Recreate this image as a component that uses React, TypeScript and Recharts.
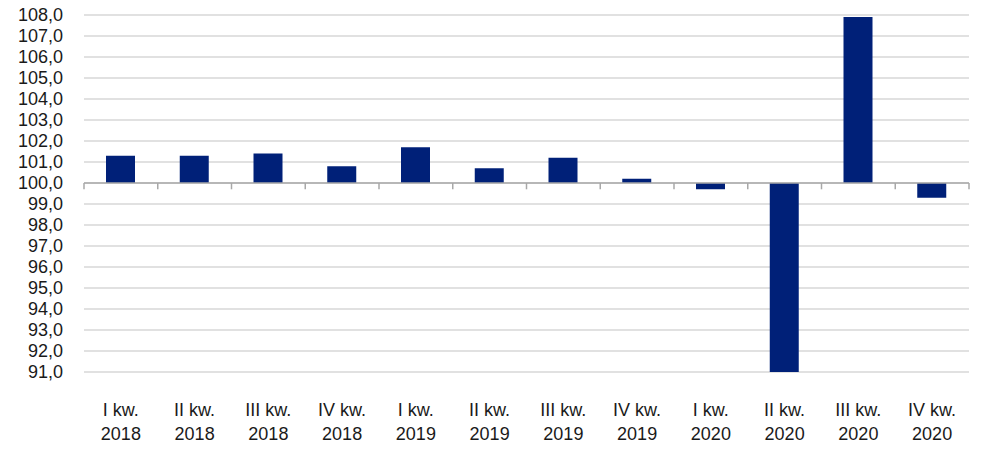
import { Bar, BarChart, CartesianGrid, ReferenceLine, XAxis, YAxis } from "recharts";

const quarters = ["I kw.", "II kw.", "III kw.", "IV kw.", "I kw.", "II kw.", "III kw.", "IV kw.", "I kw.", "II kw.", "III kw.", "IV kw."];
const years = ["2018", "2018", "2018", "2018", "2019", "2019", "2019", "2019", "2020", "2020", "2020", "2020"];
const values = [101.3, 101.3, 101.4, 100.8, 101.7, 100.7, 101.2, 100.2, 99.7, 90.8, 107.9, 99.3];
const yTicks = [91, 92, 93, 94, 95, 96, 97, 98, 99, 100, 101, 102, 103, 104, 105, 106, 107, 108];

const BASE = 100;
const FONT = "'Liberation Sans', Arial, sans-serif";

const data = values.map((v, i) => ({
  key: `${quarters[i]} ${years[i]}`,
  delta: v - BASE,
}));

function QuarterTick({ x, y, payload }: any) {
  const i = payload.index;
  return (
    <text x={x} y={y} textAnchor="middle" fill="#1a1a1a" fontSize={18} fontFamily={FONT}>
      <tspan x={x} dy={36}>{quarters[i]}</tspan>
      <tspan x={x} dy={24}>{years[i]}</tspan>
    </text>
  );
}

export default function App() {
  return (
    <div style={{ position: "absolute", left: 0, top: 0, background: "#fff" }}>
      <BarChart
        width={987}
        height={455}
        data={data}
        margin={{ top: 15, right: 18, bottom: 0, left: 0 }}
      >
        <CartesianGrid vertical={false} stroke="#c4c4c4" strokeWidth={1.2} />
        <XAxis
          dataKey="key"
          height={83}
          axisLine={false}
          tickLine={false}
          interval={0}
          tick={<QuarterTick />}
        />
        <YAxis
          width={84}
          domain={[yTicks[0] - BASE, yTicks[yTicks.length - 1] - BASE]}
          ticks={yTicks.map((t) => t - BASE)}
          allowDataOverflow
          axisLine={false}
          tickLine={false}
          tickSize={6}
          tickMargin={15}
          interval={0}
          tick={{ fill: "#1a1a1a", fontSize: 18, fontFamily: FONT }}
          tickFormatter={(v: number) => (v + BASE).toFixed(1).replace(".", ",")}
        />
        <Bar dataKey="delta" fill="#002078" barSize={29} isAnimationActive={false} />
        <ReferenceLine y={0} stroke="#a8a8a8" strokeWidth={1.5} />
        {data.map((d) => (
          <ReferenceLine
            key={d.key}
            position="start"
            segment={[{ x: d.key, y: 0 }, { x: d.key, y: -0.3 }]}
            stroke="#a8a8a8"
            strokeWidth={1.5}
          />
        ))}
        <ReferenceLine
          position="end"
          segment={[{ x: data[data.length - 1].key, y: 0 }, { x: data[data.length - 1].key, y: -0.3 }]}
          stroke="#a8a8a8"
          strokeWidth={1.5}
        />
      </BarChart>
    </div>
  );
}
